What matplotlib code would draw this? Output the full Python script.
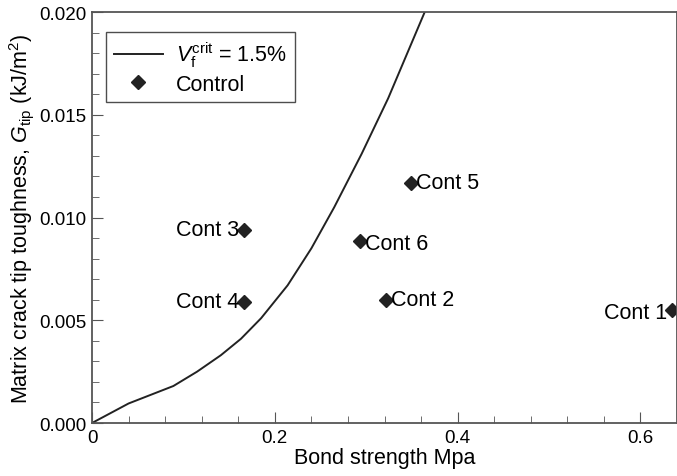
import matplotlib
matplotlib.use("Agg")
import matplotlib.pyplot as plt
from matplotlib.ticker import MultipleLocator, FormatStrFormatter

plt.rcParams['font.family'] = ['Liberation Sans', 'DejaVu Sans']
plt.rcParams['mathtext.fontset'] = 'custom'
plt.rcParams['mathtext.rm'] = 'Liberation Sans'
plt.rcParams['mathtext.it'] = 'Liberation Sans:italic'
plt.rcParams['font.size'] = 15.5

# critical curve V_f = 1.5 %
curve_x = [0, 0.04, 0.089, 0.115, 0.141, 0.163, 0.185, 0.214, 0.240, 0.265, 0.295, 0.324, 0.364]
curve_y = [0, 0.00095, 0.0018, 0.0025, 0.0033, 0.0041, 0.0051, 0.0067, 0.0085, 0.0105, 0.0131, 0.0158, 0.0200]

# control specimens
ctrl_names = ['Cont 1', 'Cont 2', 'Cont 3', 'Cont 4', 'Cont 5', 'Cont 6']
ctrl_x = [0.635, 0.322, 0.166, 0.166, 0.349, 0.293]
ctrl_y = [0.0055, 0.0060, 0.0094, 0.0059, 0.0117, 0.00885]
label_side = ['left', 'right', 'left', 'left', 'right', 'right']
label_dy = [-2, 0, 0, 0, 0, -2]

fig = plt.figure(figsize=(6.77, 4.77), dpi=100)
ax = fig.add_axes([0.1359, 0.1111, 0.8641, 0.8616])

ax.plot(curve_x, curve_y, color='#222222', lw=1.4, label=r'$V_{\mathrm{f}}^{\mathrm{crit}}$ = 1.5%')
ax.plot(ctrl_x, ctrl_y, 'D', color='#222222', ms=7, ls='none', label='Control')

for name, x, y, side, dy in zip(ctrl_names, ctrl_x, ctrl_y, label_side, label_dy):
    dx = 3.5 if side == 'right' else -3.5
    ax.annotate(name, (x, y), xytext=(dx, dy), textcoords='offset points',
                ha='left' if side == 'right' else 'right', va='center')

ax.set_xlim(0, 0.64)
ax.set_ylim(0, 0.020)
ax.xaxis.set_major_locator(MultipleLocator(0.2))
ax.xaxis.set_minor_locator(MultipleLocator(0.04))
ax.yaxis.set_major_locator(MultipleLocator(0.005))
ax.yaxis.set_minor_locator(MultipleLocator(0.001))
ax.yaxis.set_major_formatter(FormatStrFormatter('%.3f'))
ax.set_xticks([0, 0.2, 0.4, 0.6])
ax.set_xticklabels(['0', '0.2', '0.4', '0.6'])
ax.tick_params(which='both', direction='in', top=False, right=False, color='#555555', labelsize=13.5)
ax.tick_params(which='major', length=8, pad=4)
ax.tick_params(which='minor', length=5)
for s in ax.spines.values():
    s.set_color('#555555')
    s.set_linewidth(1.3)

ax.set_xlabel('Bond strength Mpa', labelpad=1)
ax.set_ylabel(r'Matrix crack tip toughness, $G_{\mathrm{tip}}$ (kJ/m$^2$)', labelpad=2)

leg = ax.legend(loc='upper left', bbox_to_anchor=(0.024, 0.951), borderaxespad=0, frameon=True,
                fancybox=False, edgecolor='#222222', handlelength=2.3, borderpad=0.35,
                labelspacing=0.2, handletextpad=0.6)
leg.get_frame().set_linewidth(1.0)

fig.savefig('out.png', dpi=100)
